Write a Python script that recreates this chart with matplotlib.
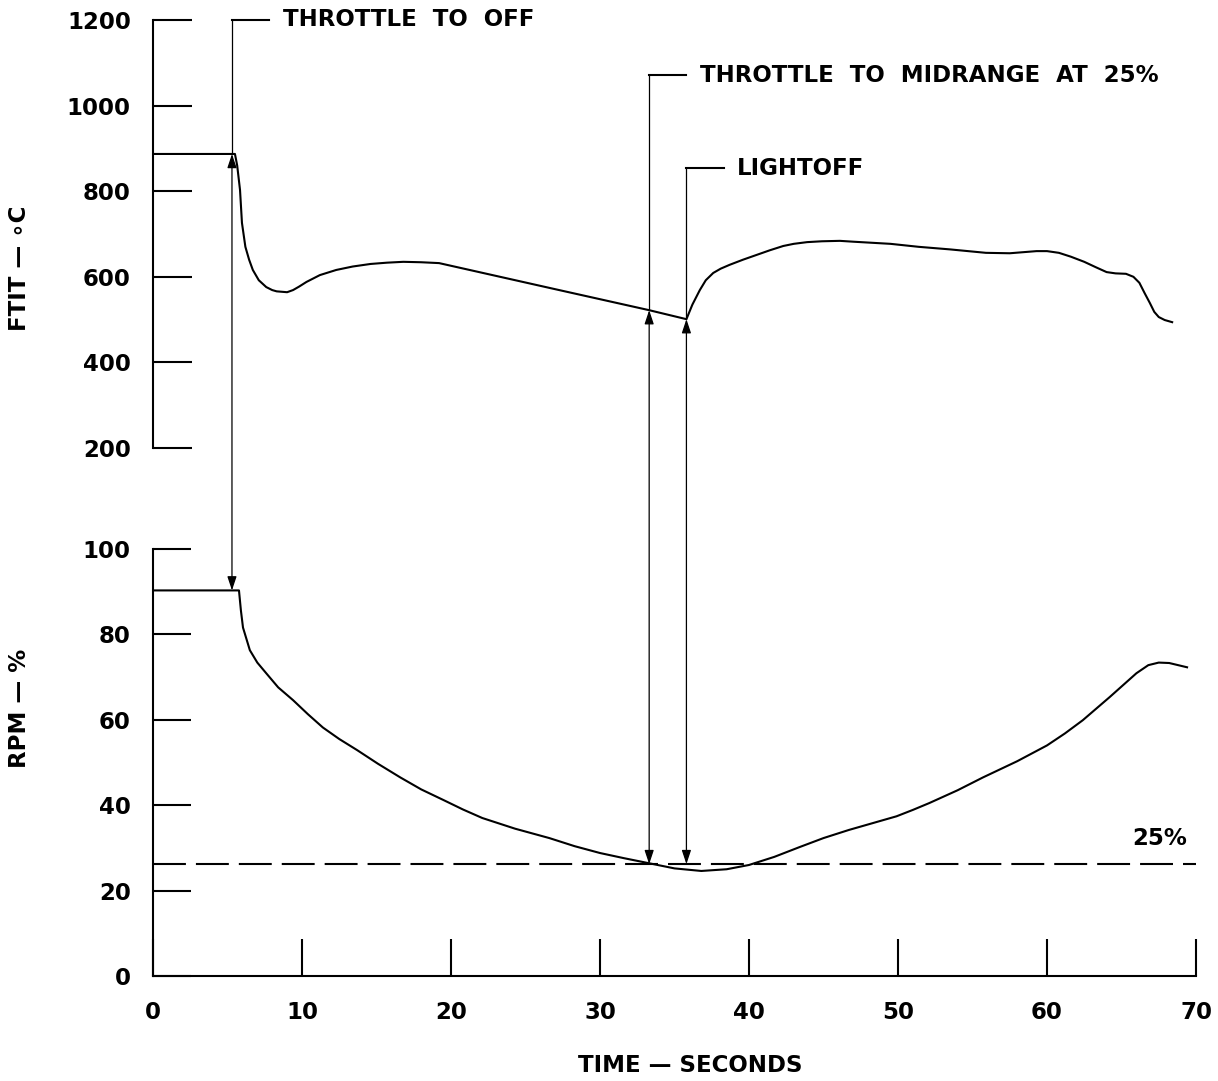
import numpy as np
import matplotlib
matplotlib.use("Agg")
import matplotlib.pyplot as plt
from matplotlib.patches import ConnectionPatch

plt.rcParams['font.family'] = ['DejaVu Sans']
plt.rcParams['font.weight'] = 'bold'

# FTIT trace (time s, deg C)
ftit_t = [0, 5.5, 5.65, 5.84, 5.97, 6.2, 6.45, 6.7, 7.1, 7.6, 8.0, 8.3, 9.0, 9.4, 9.8,
          10.3, 11.2, 12.3, 13.4, 14.6, 15.7, 16.8, 18.0, 19.2, 27.0, 33.3, 35.8,
          36.2, 36.7, 37.1, 37.6, 38.1, 38.7, 39.6, 40.5, 41.4, 42.3, 43.0, 43.9,
          44.9, 46.1, 47.0, 48.0, 49.5, 51.4, 53.5, 55.9, 57.5, 59.3, 60.0, 60.8,
          61.6, 62.5, 63.3, 64.0, 64.6, 65.3, 65.8, 66.2, 66.55, 66.9, 67.2, 67.5,
          67.9, 68.4]
ftit_v = [887, 887, 860, 803, 726, 670, 640, 616, 592, 576, 569, 566, 564, 569, 577,
          588, 604, 616, 624, 630, 633, 635, 634, 632, 571, 522, 501,
          535, 569, 592, 609, 619, 628, 640, 651, 662, 672, 677, 681,
          683, 684, 682, 680, 677, 670, 664, 656, 655, 660, 660, 656,
          647, 635, 622, 611, 608, 607, 600, 586, 562, 539, 518, 506,
          499, 494]

# RPM trace (time s, %)
rpm_t = [0, 5.77, 5.9, 6.04, 6.5, 7.0, 7.6, 8.4, 9.4, 10.4, 11.4, 12.5, 13.7, 15.1,
         16.6, 18.0, 19.5, 20.8, 22.1, 24.3, 26.6, 28.3, 30.0, 31.6, 33.3, 35.0,
         36.8, 38.5, 40.0, 41.7, 43.4, 45.0, 46.7, 48.3, 49.9, 51.0, 52.1, 54.0,
         55.7, 58.0, 60.0, 61.2, 62.4, 63.3, 64.2, 65.1, 66.0, 66.8, 67.5, 68.2, 69.4]
rpm_v = [90.3, 90.3, 85.6, 81.6, 76.3, 73.4, 70.9, 67.6, 64.6, 61.3, 58.2, 55.5, 52.9, 49.7,
         46.5, 43.7, 41.2, 39.0, 37.0, 34.5, 32.3, 30.4, 28.8, 27.6, 26.4, 25.2,
         24.6, 25.0, 26.0, 27.9, 30.2, 32.3, 34.2, 35.8, 37.4, 38.9, 40.5, 43.5,
         46.5, 50.3, 54.0, 56.8, 59.9, 62.6, 65.3, 68.1, 70.9, 72.8, 73.4, 73.3, 72.3]

rpm_ref = 26.2
ref_label = '25%'

# events: time, label, leader height (FTIT scale)
event_t = [5.3, 33.3, 35.8]
event_label = ['THROTTLE  TO  OFF', 'THROTTLE  TO  MIDRANGE  AT  25%', 'LIGHTOFF']
event_top = [1200, 1071, 854]
event_to_curve = [True, False, False]

W, H = 1218, 1081
fig = plt.figure(figsize=(W / 100, H / 100), dpi=100)
ax_t = fig.add_axes([153 / W, 1 - 448 / H, 1043 / W, 428 / H])
ax_r = fig.add_axes([153 / W, 1 - 976 / H, 1043 / W, 427 / H])

fs = 16.5
lw = 1.5

# upper: FTIT
ax_t.plot(ftit_t, ftit_v, color='black', lw=lw)
ax_t.set_xlim(0, 70)
ax_t.set_ylim(200, 1200)
for s in ['top', 'right', 'bottom']:
    ax_t.spines[s].set_visible(False)
ax_t.spines['left'].set_linewidth(lw)
ax_t.set_xticks([])
ax_t.set_yticks(range(200, 1201, 200))
ax_t.tick_params(axis='y', direction='in', length=28, width=lw, pad=16, labelsize=fs)

# lower: RPM
ax_r.plot(rpm_t, rpm_v, color='black', lw=lw)
ax_r.plot([0, 70], [rpm_ref, rpm_ref], color='black', lw=lw,
          linestyle=(0, (15.8, 4.8)))
ax_r.text(65.7, 32.3, ref_label, fontsize=fs, va='center', ha='left')
ax_r.set_xlim(0, 70)
ax_r.set_ylim(0, 100)
for s in ['top', 'right']:
    ax_r.spines[s].set_visible(False)
ax_r.spines['left'].set_linewidth(lw)
ax_r.spines['bottom'].set_linewidth(lw)
ax_r.set_xticks(range(0, 71, 10))
ax_r.set_yticks(range(0, 101, 20))
ax_r.tick_params(axis='y', direction='in', length=27, width=lw, pad=16, labelsize=fs)
ax_r.tick_params(axis='x', direction='in', length=27, width=lw, pad=18, labelsize=fs)

# event arrows and leaders
for t, lab, top, to_curve in zip(event_t, event_label, event_top, event_to_curve):
    f_tip = np.interp(t, ftit_t, ftit_v)
    r_tip = np.interp(t, rpm_t, rpm_v) if to_curve else rpm_ref
    ax_t.plot([t, t], [f_tip, top], color='black', lw=0.9, clip_on=False)
    ax_t.plot([t, t + 2.5], [top, top], color='black', lw=lw, clip_on=False)
    ax_t.text(t + 3.4, top, lab, fontsize=fs, va='center', ha='left', clip_on=False)
    con = ConnectionPatch(xyA=(t, f_tip), coordsA=ax_t.transData,
                          xyB=(t, r_tip), coordsB=ax_r.transData,
                          arrowstyle='<|-|>,head_length=0.6,head_width=0.2',
                          mutation_scale=14, lw=0.9, color='black')
    fig.add_artist(con)

fig.text(20 / W, 1 - 268 / H, 'FTIT — ∘C', rotation=90, ha='center', va='center', fontsize=fs)
fig.text(20 / W, 1 - 708 / H, 'RPM — %', rotation=90, ha='center', va='center', fontsize=fs)
fig.text(690 / W, 1 - 1065 / H, 'TIME — SECONDS', ha='center', va='center', fontsize=fs)

fig.savefig('out.png', dpi=100)
